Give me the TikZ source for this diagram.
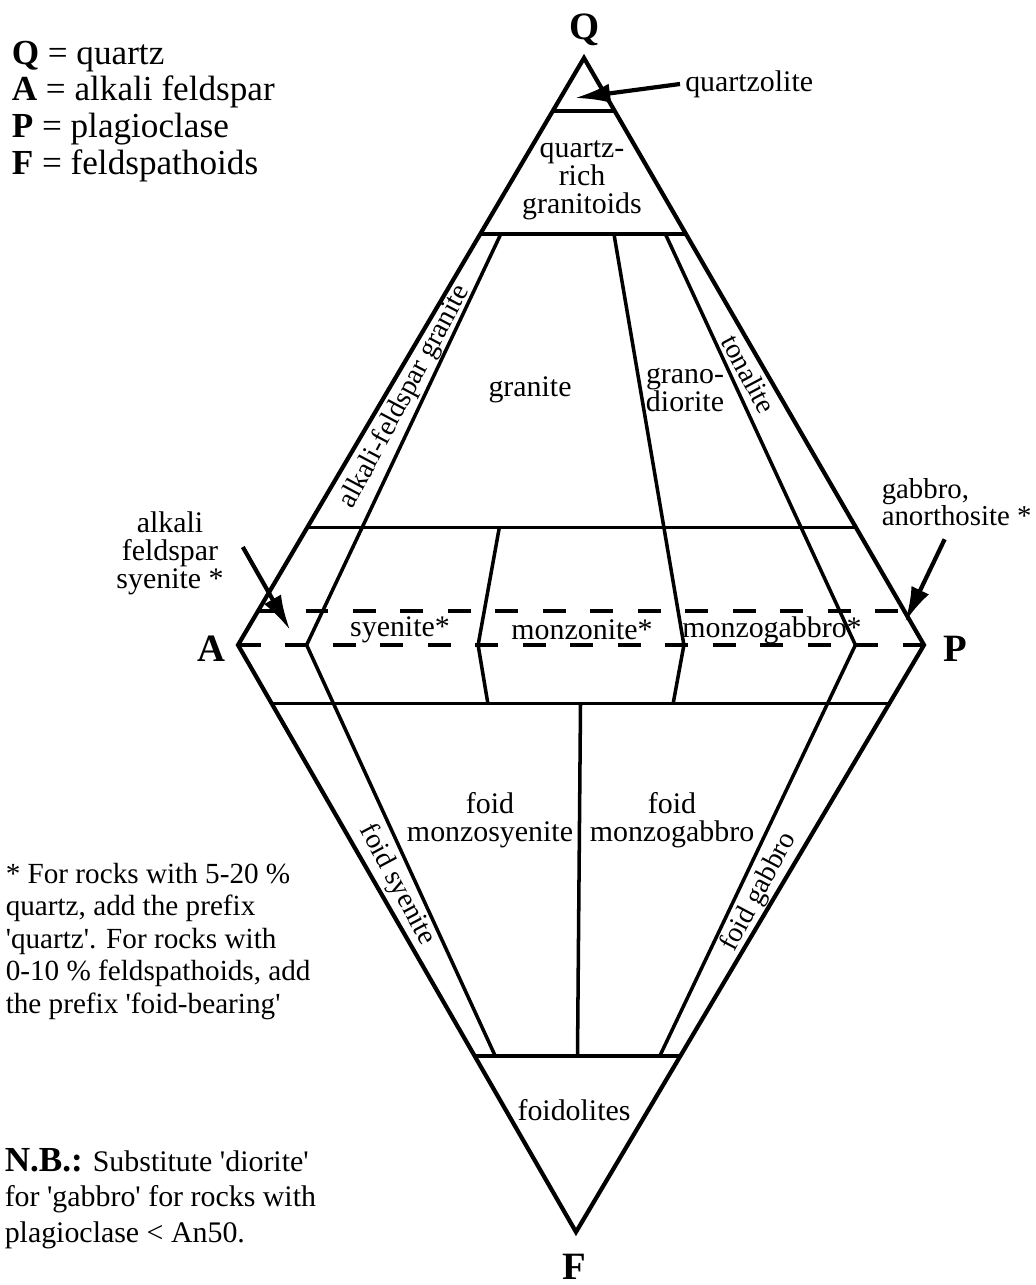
\documentclass[tikz,border=0pt]{standalone}
\usepackage{fontspec}
\setmainfont{Liberation Serif}
\usetikzlibrary{arrows.meta, calc}

\begin{document}
\begin{tikzpicture}[x=0.01cm, y=-0.01cm, line width=1pt,
    vtx/.style={font=\fontsize{11}{12}\selectfont\bfseries},
    fld/.style={font=\fontsize{8.5}{8}\selectfont, align=center, inner sep=1pt},
    strip/.style={font=\fontsize{8}{8}\selectfont, inner sep=0pt},
    note/.style={align=left, anchor=north west, inner sep=0pt},
    ptr/.style={-{Latex[length=10pt, width=5.5pt]}, line width=1.2pt},
    dsh/.style={dash pattern=on 6.5pt off 7pt}]
    \useasboundingbox (0,0) rectangle (1035,1285);

    % corners of the double triangle
    \coordinate (Q) at (584,58);
    \coordinate (A) at (238,645);
    \coordinate (P) at (924,645);
    \coordinate (F) at (576,1232);

    % ends of the horizontal boundaries
    \coordinate (qz90A) at ($(Q)!0.09!(A)$);
    \coordinate (qz90P) at ($(Q)!0.09!(P)$);
    \coordinate (q60A) at ($(Q)!0.3!(A)$);
    \coordinate (q60P) at ($(Q)!0.3!(P)$);
    \coordinate (q20A) at ($(Q)!0.8!(A)$);
    \coordinate (q20P) at ($(Q)!0.8!(P)$);
    \coordinate (q05A) at ($(Q)!0.942!(A)$);
    \coordinate (q05P) at ($(Q)!0.942!(P)$);
    \coordinate (f10A) at ($(A)!0.1!(F)$);
    \coordinate (f10P) at ($(P)!0.1!(F)$);
    \coordinate (f60A) at ($(A)!0.7!(F)$);
    \coordinate (f60P) at ($(P)!0.7!(F)$);

    \draw[line width=1.2pt] (Q) -- (A) -- (F) -- (P) -- cycle;
    \draw (qz90A) -- (qz90P);
    \draw (q60A) -- (q60P);
    \draw (q20A) -- (q20P);
    \draw[dsh] (q05A) -- (q05P);
    \draw[dsh] (A) -- (P);
    \draw (f10A) -- (f10P);
    \draw (f60A) -- (f60P);

    % field boundaries
    \draw ($(q60A)!0.1!(q60P)$) -- ($(A)!0.1!(P)$) -- ($(f60A)!0.1!(f60P)$);
    \draw ($(q20A)!0.35!(q20P)$) -- ($(A)!0.35!(P)$) -- ($(f10A)!0.35!(f10P)$);
    \draw ($(q60A)!0.65!(q60P)$) -- ($(A)!0.65!(P)$) -- ($(f10A)!0.65!(f10P)$);
    \draw ($(q60A)!0.9!(q60P)$) -- ($(A)!0.9!(P)$) -- ($(f60A)!0.9!(f60P)$);
    \draw ($(f10A)!0.5!(f10P)$) -- ($(f60A)!0.5!(f60P)$);

    \node[vtx] (lQ) at (585,30) {Q};
    \node[vtx] (lA) at (211,649) {A};
    \node[vtx] (lP) at (955,649) {P};
    \node[vtx] (lF) at (574,1267) {F};

    \node[fld, anchor=west] (qzl) at (680,84) {quartzolite};
    \node[fld] (qrg) at (582,180) {quartz-\\rich\\granitoids};
    \node[fld] (gra) at (530,390) {granite};
    \node[fld] (gdi) at (685,390) {grano-\\diorite};
    \node[strip, rotate=62] (afg) at (405,397) {alkali-feldspar granite};
    \node[strip, rotate=-62] (ton) at (749,374) {tonalite};
    \node[fld] (sye) at (400,630) {syenite*};
    \node[fld] (mzn) at (582,630) {monzonite*};
    \node[fld] (mzg) at (772,630) {monzogabbro*};
    \node[fld] (fms) at (490,820) {foid\\monzosyenite};
    \node[fld] (fmg) at (672,820) {foid\\monzogabbro};
    \node[strip, rotate=-62] (fsy) at (397,885) {foid syenite};
    \node[strip, rotate=62] (fga) at (759,892) {foid gabbro};
    \node[fld] (fdl) at (574,1110) {foidolites};
    \node[fld] (afs) at (170,553) {alkali\\feldspar\\syenite *};
    \node[fld, font=\fontsize{8.2}{7.6}\selectfont, align=left, anchor=west, inner sep=0pt] (gab) at (880,502) {gabbro,\\anorthosite *};

    % pointers to the thin fields
    \coordinate (qzltip) at (575,98);
    \coordinate (afstip) at (290,630);
    \coordinate (gabtip) at (905,622);
    \draw[ptr] (qzl.west) -- (qzltip);
    \draw[ptr] ([shift={(14,-6)}]afs.east) -- (afstip);
    \draw[ptr] ([shift={(-12,12)}]gab.south) -- (gabtip);

    \node[note, font=\fontsize{10}{10.5}\selectfont] (key) at (10,39)
        {\textbf{Q} = quartz\\ \textbf{A} = alkali feldspar\\ \textbf{P} = plagioclase\\ \textbf{F} = feldspathoids};
    \node[note, font=\fontsize{8.3}{9.25}\selectfont] (star) at (4,861)
        {* For rocks with 5-20 \%\\ quartz, add the prefix\\ \textquotesingle quartz\textquotesingle. For rocks with\\ 0-10 \% feldspathoids, add\\ the prefix \textquotesingle foid-bearing\textquotesingle};
    \node[note, font=\fontsize{8.5}{10}\selectfont] (nb) at (3,1147)
        {{\fontsize{10}{10}\selectfont\textbf{N.B.:}} Substitute \textquotesingle diorite\textquotesingle\\ for \textquotesingle gabbro\textquotesingle{} for rocks with\\ plagioclase < An50.};
\end{tikzpicture}
\end{document}
